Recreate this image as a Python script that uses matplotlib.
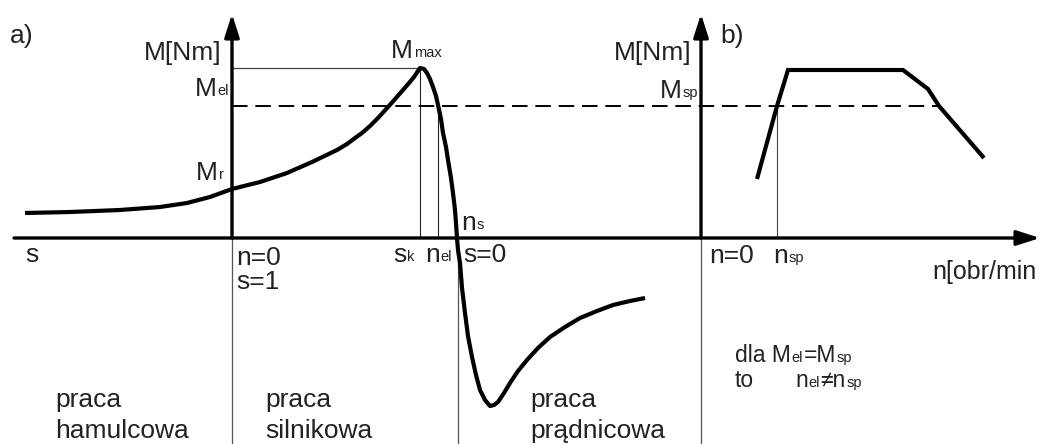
import matplotlib.pyplot as plt

plt.rcParams['font.family'] = ['Liberation Sans', 'DejaVu Sans']

# characteristic a) (drawing units = pixels of the original sketch)
curve_a_x = [25, 70, 120, 160, 187, 210, 232, 260, 287, 312, 337, 347, 355, 362, 370, 378, 388,
             396, 403, 409, 414, 418, 420, 424, 427, 430, 433, 436, 438, 441, 443, 446, 448, 451,
             453, 455, 456, 457, 458, 460, 462, 465, 468, 472, 476, 480, 485, 490, 494, 498, 504,
             510, 518, 527, 538, 550, 565, 580, 597, 613, 630, 645]
curve_a_y = [213, 212, 210, 207, 203, 197, 189, 182, 173, 162, 150, 144, 138, 133, 126, 118, 107,
             98, 90, 83, 77, 71, 68, 69, 73, 79, 87, 96, 105, 119, 133, 147, 160, 178,
             193, 210, 223, 238, 250, 263, 288, 313, 336, 357, 375, 390, 400, 406, 405, 402, 393,
             383, 371, 360, 348, 337, 327, 318, 311, 305, 301, 298]

# characteristic b)
curve_b_x = [757, 777, 788, 903, 928, 939, 984]
curve_b_y = [179, 106, 70, 70, 89, 106, 158]

x_axis_y = 238
y_axis_a = 232
y_axis_b = 701
m_max = (420, 68)
m_el = 106
n_el = 438
n_s = 458
n_sp = 777

fig = plt.figure(figsize=(10.4, 4.44), dpi=100)
ax = fig.add_axes([0, 0, 1, 1])
ax.set_xlim(0, 1040)
ax.set_ylim(444, 0)
ax.axis('off')

fs = 19
sub = 10.5
ink = '#222222'

# axes with arrows
ax.annotate('', xy=(1040, x_axis_y), xytext=(14, x_axis_y),
            arrowprops=dict(arrowstyle='-|>,head_length=1.4,head_width=0.45', lw=2.4, color='k',
                            shrinkA=0, shrinkB=0))
for xa in [y_axis_a, y_axis_b]:
    ax.annotate('', xy=(xa, 14), xytext=(xa, x_axis_y),
                arrowprops=dict(arrowstyle='-|>,head_length=1.4,head_width=0.45', lw=2.4, color='k',
                                shrinkA=0, shrinkB=0))
    ax.plot([xa, xa], [x_axis_y, 444], color='#555555', lw=0.9)
ax.plot([n_s, n_s], [x_axis_y, 444], color='#555555', lw=0.9)

# helper lines
ax.plot([y_axis_a, m_max[0]], [m_max[1], m_max[1]], color='#444444', lw=0.9)
ax.plot([m_max[0], m_max[0]], [m_max[1], x_axis_y], color='#222222', lw=0.8)
ax.plot([n_el, n_el], [m_el, x_axis_y], color='#222222', lw=0.8)
ax.plot([n_sp, n_sp], [m_el, x_axis_y], color='#444444', lw=0.8)
ax.plot([y_axis_a, 940], [m_el, m_el], color='k', lw=1.4, dashes=(8, 4))

ax.plot(curve_a_x, curve_a_y, color='k', lw=3, solid_capstyle='butt', solid_joinstyle='round')
ax.plot(curve_b_x, curve_b_y, color='k', lw=3, solid_capstyle='butt', solid_joinstyle='miter')

DESC = 0.21  # descent of the font, fraction of the size


def label(x, y, parts, size=fs, small_size=sub):
    # parts: alternating normal text and small suffix, all on one baseline
    t = ax.text(x, y, parts[0], fontsize=size, va='baseline', ha='left', color=ink)
    prev = size
    small = True
    for p in parts[1:]:
        cur = small_size if small else size
        t = ax.annotate(p, xy=(1, 0), xycoords=t, xytext=(0.5, DESC * prev),
                        textcoords='offset points', fontsize=cur,
                        va='baseline', ha='left', color=ink)
        prev = cur
        small = not small
    return t


label(10, 43, ['a)'])
label(720, 43, ['b)'])
ax.text(222, 60, 'M[Nm]', fontsize=fs, va='baseline', ha='right', color=ink)
ax.text(692, 60, 'M[Nm]', fontsize=fs, va='baseline', ha='right', color=ink)
label(391, 58, ['M', 'max'])
label(195, 96, ['M', 'el'])
label(196, 180, ['M', 'r'])
label(660, 98, ['M', 'sp'])
label(461, 230, ['n', 's'])
label(25, 262, ['s'])
label(236, 265, ['n=0'])
label(236, 289, ['s=1'])
label(393, 262, ['s', 'k'])
label(425, 262, ['n', 'el'])
label(463, 262, ['s=0'])
label(709, 263, ['n=0'])
label(773, 263, ['n', 'sp'])
ax.text(932, 279, 'n[obr/min', fontsize=18, va='baseline', ha='left', color=ink)
label(735, 362, ['dla M', 'el', '=M', 'sp'], size=16.5, small_size=10.5)
label(735, 387, ['to'], size=16.5)
label(795, 387, ['n', 'el', '\u2260n', 'sp'], size=16.5, small_size=10.5)

for x0, words in [(55, 'hamulcowa'), (265, 'silnikowa'), (530, 'prądnicowa')]:
    ax.text(x0, 407, 'praca', fontsize=fs, va='baseline', ha='left', color=ink)
    ax.text(x0, 438, words, fontsize=fs, va='baseline', ha='left', color=ink)

fig.savefig('out.png', dpi=100)
